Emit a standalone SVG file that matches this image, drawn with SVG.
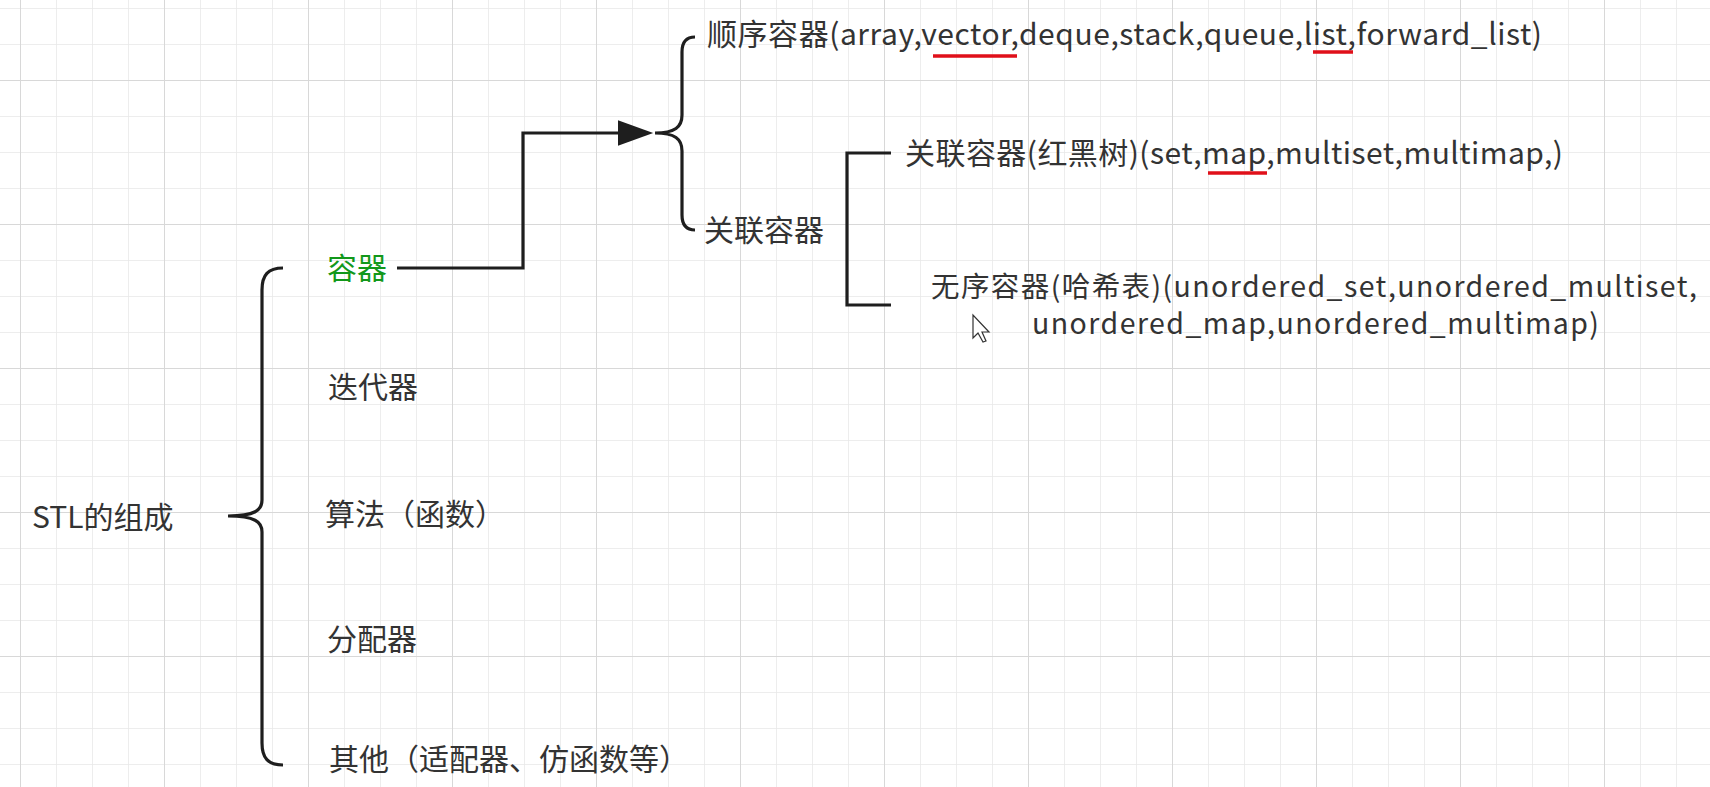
<svg xmlns="http://www.w3.org/2000/svg" width="1710" height="787" viewBox="0 0 1710 787">
<defs>
<pattern id="minor" x="20" y="8" width="36" height="36" patternUnits="userSpaceOnUse">
<path d="M0,0 L36,0 M0,0 L0,36" fill="none" stroke="#e8e8e8" stroke-width="1.5"/>
</pattern>
<pattern id="major" x="20" y="80" width="144" height="144" patternUnits="userSpaceOnUse">
<path d="M0,0 L144,0 M0,0 L0,144" fill="none" stroke="#d8d8d8" stroke-width="2"/>
</pattern>
<marker id="arrow" markerWidth="12" markerHeight="8" refX="0" refY="4" orient="auto" markerUnits="strokeWidth">
<path d="M0,0 L11,4 L0,8 Z" fill="#1e1e1e"/>
</marker>
<style>
.t{font-family:"Noto Sans CJK SC","Noto Sans",sans-serif;font-size:30px;fill:#333333}
.s{font-size:28.5px}
.g{fill:#12981a}
.ln{fill:none;stroke:#1e1e1e;stroke-width:3.2}
.red{stroke:#e0101a;stroke-width:3.5;fill:none}
</style>
</defs>
<rect width="1710" height="787" fill="#ffffff"/>
<rect width="1710" height="787" fill="url(#minor)"/>
<rect width="1710" height="787" fill="url(#major)"/>

<g id="connectors">
<path class="ln" d="M283,268 C268,268 262,275 262,290 L262,500 C262,510 255,516 228,516 C255,516 262,522 262,532 L262,743 C262,758 268,765 283,765"/>
<path class="ln" d="M397,268 L523,268 L523,133 L618,133" marker-end="url(#arrow)"/>
<path class="ln" d="M695,37 C686,37 682,42 682,52 L682,115 C682,127 675,133 655,133 C675,133 682,139 682,151 L682,215 C682,225 686,230 695,230"/>
<path class="ln" d="M891,153 L847,153 L847,305 L891,305"/>
</g>

<g id="root"><text class="t" x="32" y="528">STL的组成</text></g>
<g id="n-container"><text class="t g" x="327" y="279">容器</text></g>
<g id="n-iterator"><text class="t" x="328" y="398">迭代器</text></g>
<g id="n-algorithm"><text class="t" x="325" y="525">算法（函数）</text></g>
<g id="n-allocator"><text class="t" x="327" y="650">分配器</text></g>
<g id="n-other"><text class="t" x="329" y="770">其他（适配器、仿函数等）</text></g>
<g id="n-sequence">
<text class="t" x="707" y="45" textLength="835">顺序容器(array,vector,deque,stack,queue,list,forward_list)</text>
<path class="red" d="M933,56 L1017,56 M1313,52 L1353,52"/>
</g>
<g id="n-assoc"><text class="t" x="704" y="241">关联容器</text></g>
<g id="n-rbtree">
<text class="t" x="905" y="164" textLength="658">关联容器(红黑树)(set,map,multiset,multimap,)</text>
<path class="red" d="M1208,173 L1267,173"/>
</g>
<g id="n-hash">
<text class="t s" x="931" y="297" textLength="766">无序容器(哈希表)(unordered_set,unordered_multiset,</text>
<text class="t s" x="1032" y="334" textLength="567">unordered_map,unordered_multimap)</text>
</g>
<path d="M973,315 L973,338 L978,333 L983,342 L986,341 L982,332 L989,332 Z" fill="#ffffff" stroke="#333333" stroke-width="1.2"/>
</svg>
